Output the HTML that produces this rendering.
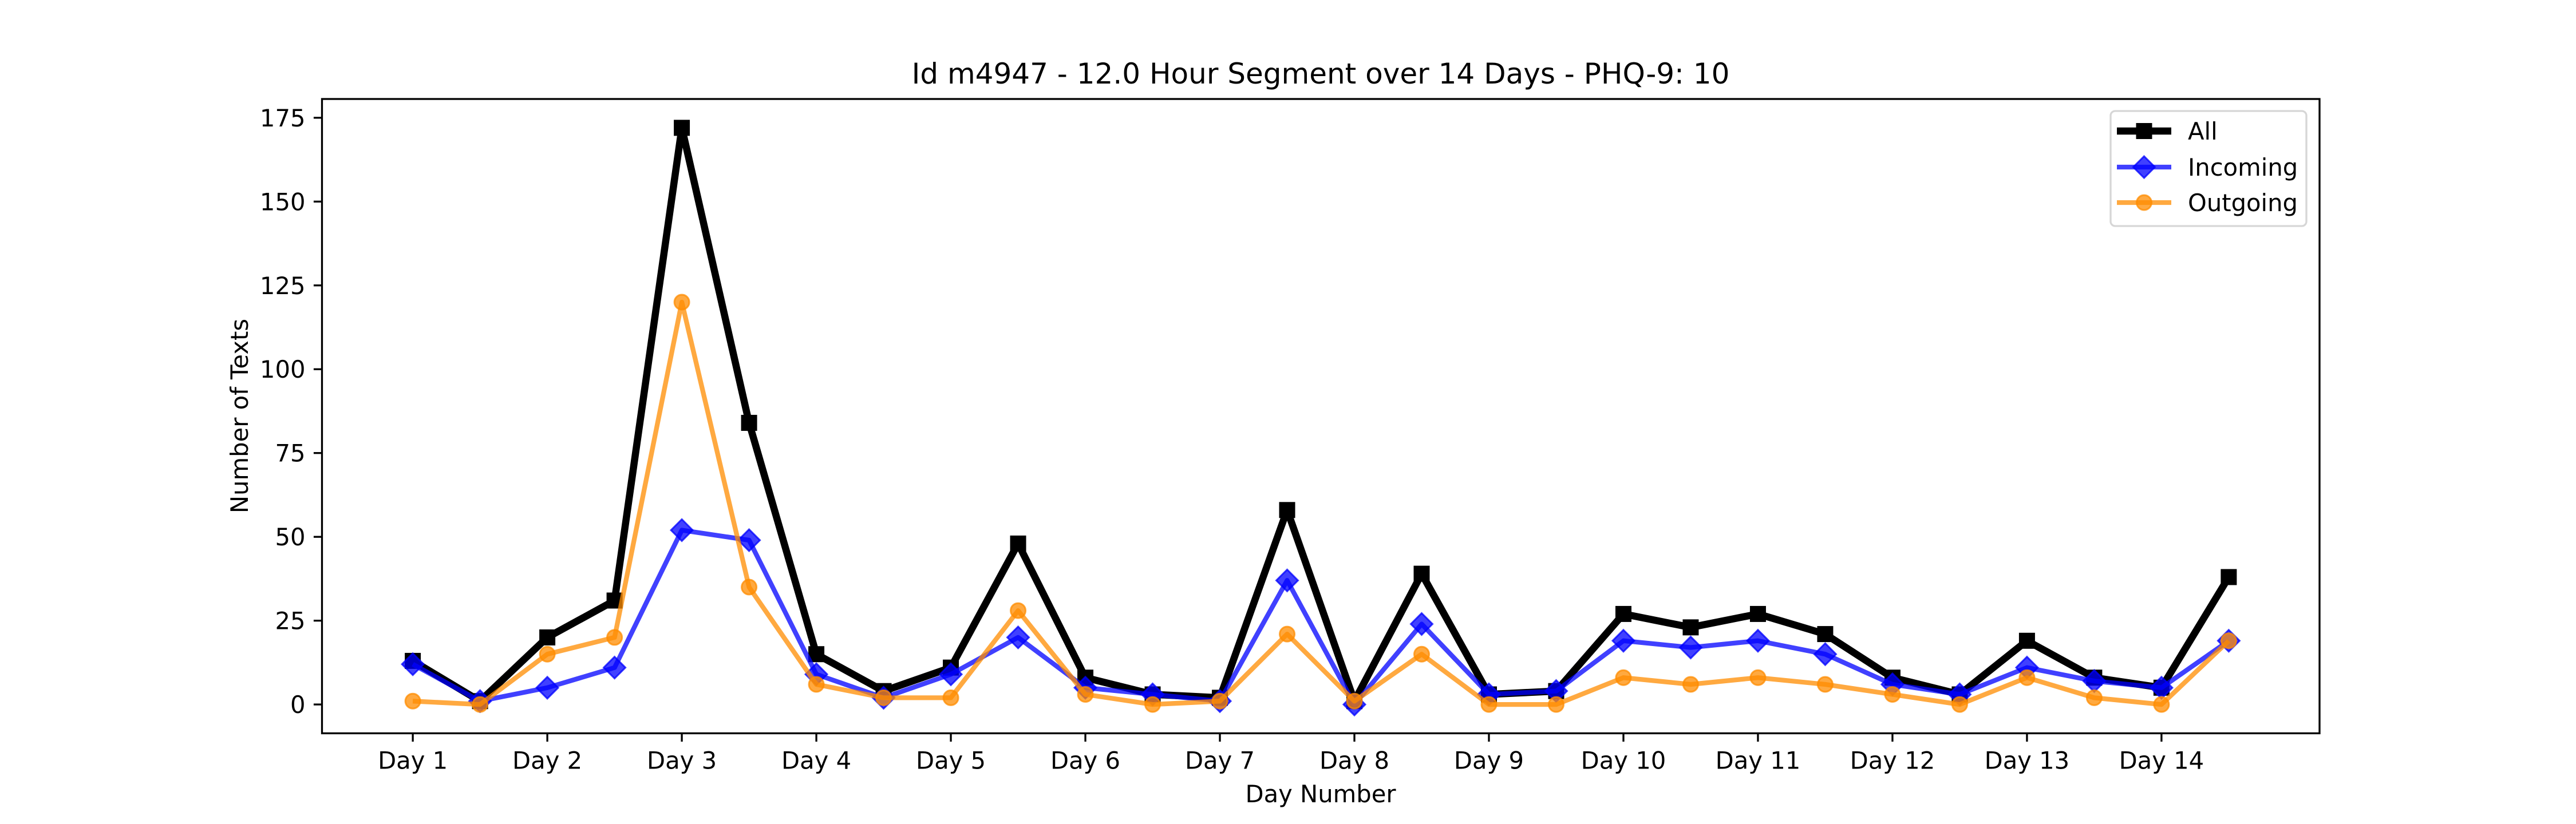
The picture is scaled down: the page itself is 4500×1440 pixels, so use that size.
<!DOCTYPE html>
<html><head><meta charset="utf-8"><style>
html,body{margin:0;padding:0;background:#fff}
svg{display:block;font-family:"DejaVu Sans","Liberation Sans",sans-serif}
</style></head><body>
<svg id="chart" width="4500" height="1440" viewBox="0 0 4500 1440" xmlns="http://www.w3.org/2000/svg">
<rect width="4500" height="1440" fill="#fff"/>
<text x="2307" y="146" font-size="50" text-anchor="middle">Id m4947 - 12.0 Hour Segment over 14 Days - PHQ-9: 10</text>
<g id="grid"></g>
<g id="series"></g>
<rect x="562.5" y="173" width="3489.5" height="1108.5" fill="none" stroke="#000" stroke-width="3.3"/>
<text x="2307" y="1402" font-size="41.7" text-anchor="middle">Day Number</text>
<text transform="translate(433,727) rotate(-90)" font-size="41.7" text-anchor="middle">Number of Texts</text>
<g>
<rect x="3687" y="194" width="342" height="201" rx="8" fill="#fff" fill-opacity="0.8" stroke="#d6d6d6" stroke-width="3.3"/>
<g>
<line x1="3698" y1="229" x2="3793" y2="229" stroke="#000" stroke-width="12.5"/>
<rect x="3731.5" y="215" width="28" height="28" fill="#000"/>
<text x="3822" y="244" font-size="41.7">All</text></g>
<g>
<line x1="3698" y1="292" x2="3793" y2="292" stroke="#0000ff" stroke-opacity="0.75" stroke-width="8.3"/>
<polygon points="3745.5,273 3764.5,292 3745.5,311 3726.5,292" fill="#0000ff" fill-opacity="0.75" stroke="#0000ff" stroke-opacity="0.75" stroke-width="3"/>
<text x="3822" y="307" font-size="41.7">Incoming</text></g>
<g>
<line x1="3698" y1="354" x2="3793" y2="354" stroke="#ff8c00" stroke-opacity="0.75" stroke-width="8.3"/>
<circle cx="3745.5" cy="354" r="13" fill="#ff8c00" fill-opacity="0.75" stroke="#ff8c00" stroke-opacity="0.75" stroke-width="3"/>
<text x="3822" y="369" font-size="41.7">Outgoing</text></g>
</g>
</svg>
<script>
const dayLabels = ["Day 1","Day 2","Day 3","Day 4","Day 5","Day 6","Day 7","Day 8","Day 9","Day 10","Day 11","Day 12","Day 13","Day 14"];
const yTicks = [0,25,50,75,100,125,150,175];
const allValues = [13,1,20,31,172,84,15,4,11,48,8,3,2,58,1,39,3,4,27,23,27,21,8,3,19,8,5,38];
const incomingValues = [12,1,5,11,52,49,9,2,9,20,5,3,1,37,0,24,3,4,19,17,19,15,6,3,11,7,5,19];
const outgoingValues = [1,0,15,20,120,35,6,2,2,28,3,0,1,21,1,15,0,0,8,6,8,6,3,0,8,2,0,19];

const NS = "http://www.w3.org/2000/svg";
const L = 562.5, R = 4052, T = 173, B = 1281.5;
const n = allValues.length;
const xmax = (n - 1) * 0.5;
const xlo = -0.05 * xmax, xhi = xmax * 1.05;
const maxV = Math.max(...allValues, ...incomingValues, ...outgoingValues);
const ylo = -0.05 * maxV, yhi = maxV * 1.05;
function xs(v){ return L + (v - xlo) / (xhi - xlo) * (R - L); }
function ys(v){ return B - (v - ylo) / (yhi - ylo) * (B - T); }
function mk(tag, attrs, parent){ const e = document.createElementNS(NS, tag); for (const k in attrs) e.setAttribute(k, attrs[k]); parent.appendChild(e); return e; }

const g = document.getElementById('grid');
yTicks.forEach(t => {
  const y = ys(t);
  const tk = mk('line', {x1: L - 14.6, x2: L, y1: y, y2: y, stroke: '#000', 'stroke-width': 3.3}, g);
  
  
  const tx = mk('text', {x: L - 29, y: y + 15, 'font-size': 41.7, 'text-anchor': 'end'}, g);
  tx.textContent = t;
  
  
});
dayLabels.forEach((d, i) => {
  const x = xs(i);
  const tk = mk('line', {x1: x, x2: x, y1: B, y2: B + 14.6, stroke: '#000', 'stroke-width': 3.3}, g);
  
  
  const tx = mk('text', {x: x, y: B + 62, 'font-size': 41.7, 'text-anchor': 'middle'}, g);
  tx.textContent = d;
  
  
});

const s = document.getElementById('series');
function drawSeries(vals, color, op, width, marker, name){
  const grp = mk('g', {}, s);
  
  
  const pts = vals.map((v, i) => xs(i * 0.5).toFixed(1) + ',' + ys(v).toFixed(1)).join(' ');
  const pl = mk('polyline', {points: pts, fill: 'none', stroke: color, 'stroke-opacity': op, 'stroke-width': width, 'stroke-linejoin': 'round'}, grp);
  
  
  vals.forEach((v, i) => {
    const x = xs(i * 0.5), y = ys(v);
    let m;
    if (marker === 'square') m = mk('rect', {x: x - 14, y: y - 14, width: 28, height: 28, fill: color}, grp);
    else if (marker === 'diamond') m = mk('polygon', {points: `${x},${y-19} ${x+19},${y} ${x},${y+19} ${x-19},${y}`, fill: color, 'fill-opacity': op, stroke: color, 'stroke-opacity': op, 'stroke-width': 3}, grp);
    else m = mk('circle', {cx: x, cy: y, r: 13, fill: color, 'fill-opacity': op, stroke: color, 'stroke-opacity': op, 'stroke-width': 3}, grp);
    
    
  });
}
drawSeries(allValues, '#000000', 1, 12.5, 'square', 'all');
drawSeries(incomingValues, '#0000ff', 0.75, 8.3, 'diamond', 'incoming');
drawSeries(outgoingValues, '#ff8c00', 0.75, 8.3, 'circle', 'outgoing');
</script>
</body></html>
